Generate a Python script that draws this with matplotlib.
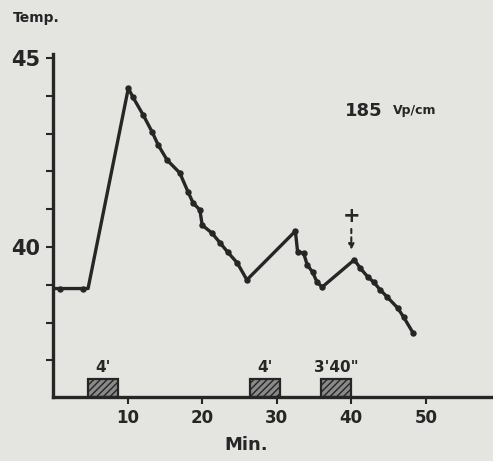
import matplotlib
matplotlib.use("Agg")
import matplotlib.pyplot as plt

# temperature curve (minutes, degrees)
minutes = [0, 0.9, 4.0, 4.7, 10.1, 10.7, 12.1, 13.3, 14.1, 15.3, 17.0, 18.1,
           18.8, 19.7, 20.0, 21.3, 22.4, 23.4, 24.7, 26.0, 32.5, 32.8, 33.6,
           34.1, 34.8, 35.4, 36.1, 40.4, 41.2, 42.2, 43.0, 43.9, 44.8, 46.2,
           47.0, 48.3]
temps = [38.9, 38.9, 38.9, 38.9, 44.2, 43.97, 43.49, 43.04, 42.7, 42.3, 41.96,
         41.46, 41.16, 40.98, 40.58, 40.37, 40.11, 39.87, 39.58, 39.13, 40.42,
         39.87, 39.84, 39.52, 39.34, 39.07, 38.94, 39.66, 39.44, 39.21, 39.07,
         38.86, 38.68, 38.39, 38.15, 37.72]
# which points carry a bead on the drawn line
bead_min = [0.9, 4.0, 10.1, 10.7, 12.1, 13.3, 14.1, 15.3, 17.0, 18.1, 18.8,
            19.7, 20.0, 21.3, 22.4, 23.4, 24.7, 26.0, 32.5, 32.8, 33.6, 34.1,
            34.8, 35.4, 36.1, 40.4, 41.2, 42.2, 43.0, 43.9, 44.8, 46.2, 47.0, 48.3]

# exposure periods
expo_start = [4.7, 26.4, 36.0]
expo_len = [4.0, 4.0, 3.9]
expo_labels = ["4'", "4'", "3'40\""]

paper = "#e4e4e1"
ink = "#262626"
ymin, ymax = 36.03, 45.1

fig = plt.figure(figsize=(4.93, 4.61), dpi=100, facecolor=paper)
ax = fig.add_axes([0.1075, 0.1388, 0.8925, 0.7436], facecolor=paper)

ax.plot(minutes, temps, color=ink, lw=2.4, solid_joinstyle="round")
bead_t = [temps[minutes.index(m)] for m in bead_min]
ax.plot(bead_min, bead_t, "o", color=ink, ms=3.6, mec=ink)

ax.bar(expo_start, [0.47] * 3, width=expo_len, bottom=ymin, align="edge",
       color="#8a8a8a", edgecolor=ink, lw=1.6, hatch="/////")
for s, w, lab in zip(expo_start, expo_len, expo_labels):
    ax.text(s + w / 2, 36.6, lab, ha="center", va="bottom", fontsize=11,
            fontweight="bold", color=ink)

# death marker over last peak
ax.text(40.0, 40.83, "+", ha="center", va="center", fontsize=15,
        fontweight="bold", color=ink)
ax.annotate("", xy=(40.0, 39.85), xytext=(40.0, 40.55),
            arrowprops=dict(arrowstyle="-|>", color=ink, lw=1.5, ls=(0, (2, 2)),
                            mutation_scale=8))

ax.text(0.664, 0.835, "185", transform=ax.transAxes, fontsize=13,
        fontweight="bold", color=ink, ha="left", va="center")
ax.text(0.772, 0.835, "Vp/cm", transform=ax.transAxes, fontsize=9,
        fontweight="bold", color=ink, ha="left", va="center")

ax.set_xlim(0, 59)
ax.set_ylim(ymin, ymax)
ax.spines["top"].set_visible(False)
ax.spines["right"].set_visible(False)
for sp in ("left", "bottom"):
    ax.spines[sp].set_color(ink)
    ax.spines[sp].set_linewidth(2.4)

ax.set_xticks([10, 20, 30, 40, 50])
ax.set_yticks([40, 45])
ax.set_yticks([37, 38, 39, 41, 42, 43, 44], minor=True)
ax.tick_params(axis="both", colors=ink, length=5, width=1.5, labelsize=12)
ax.tick_params(axis="y", which="minor", length=5, width=1.5, colors=ink)
ax.tick_params(axis="y", labelsize=15, pad=4)
for lab in ax.get_xticklabels() + ax.get_yticklabels():
    lab.set_fontweight("bold")

fig.text(0.027, 0.96, "Temp.", fontsize=10, fontweight="bold", color=ink,
         ha="left", va="center")
fig.text(0.5, 0.035, "Min.", fontsize=13, fontweight="bold", color=ink,
         ha="center", va="center")

fig.savefig("out.png", dpi=100, facecolor=paper)
